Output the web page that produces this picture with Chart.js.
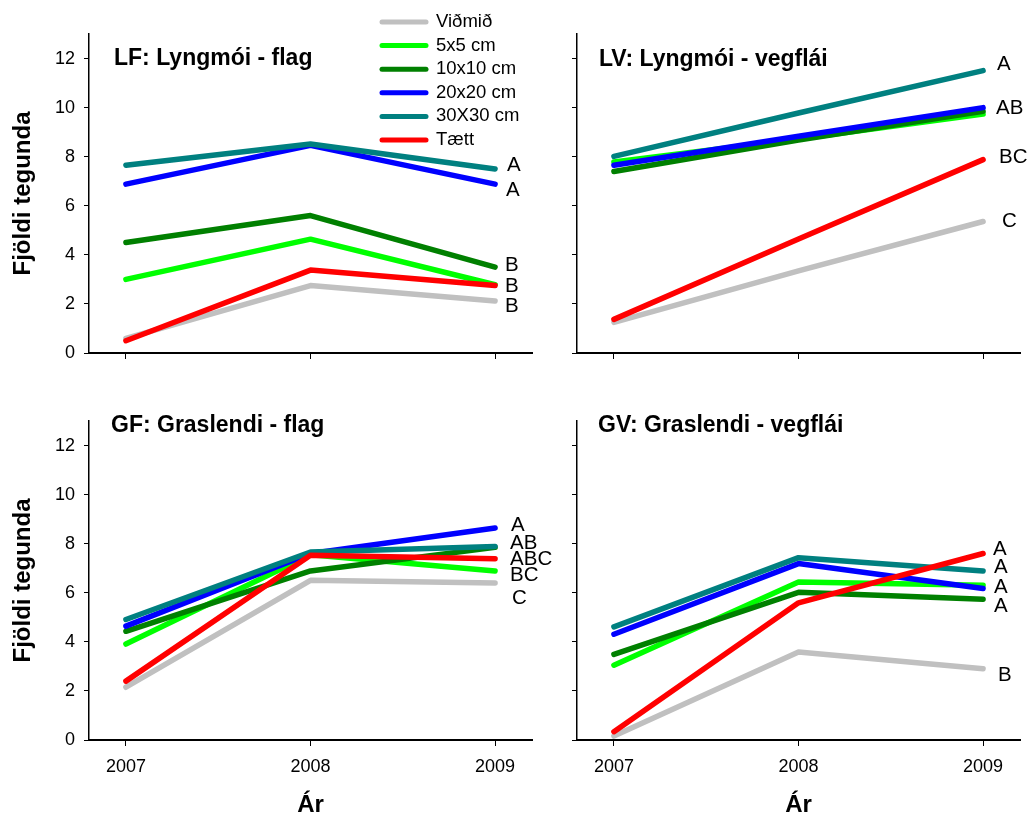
<!DOCTYPE html>
<html>
<head>
<meta charset="utf-8">
<script src="https://cdn.jsdelivr.net/npm/chart.js@4.4.1/dist/chart.umd.min.js"></script>
<style>
  html, body { margin:0; padding:0; background:#fff; }
  #wrap { position:relative; width:1029px; height:817px; background:#fff; overflow:hidden; }
  canvas { position:absolute; }
</style>
</head>
<body>
<div id="wrap">
  <canvas id="c0"></canvas>
  <canvas id="c1"></canvas>
  <canvas id="c2"></canvas>
  <canvas id="c3"></canvas>
</div>
<script>
// ---------- DATA ----------
const YEARS = [2007, 2008, 2009];
const Y_TICKS = [0, 2, 4, 6, 8, 10, 12];
const SERIES_NAMES = ['Viðmið', '5x5 cm', '10x10 cm', '20x20 cm', '30X30 cm', 'Tætt'];

// LF: Lyngmói - flag
const LF_vidmid = [0.60, 2.75, 2.12];
const LF_5x5    = [3.00, 4.64, 2.78];
const LF_10x10  = [4.50, 5.60, 3.50];
const LF_20x20  = [6.88, 8.46, 6.88];
const LF_30x30  = [7.65, 8.52, 7.50];
const LF_taett  = [0.50, 3.38, 2.75];
const LF_letters = ['A', 'A', 'B', 'B', 'B'];
const LF_letterY = [7.63, 6.61, 3.59, 2.73, 1.92];

// LV: Lyngmói - vegflái
const LV_vidmid = [1.25, 3.35, 5.36];
const LV_5x5    = [7.78, 8.72, 9.74];
const LV_10x10  = [7.40, 8.68, 9.85];
const LV_20x20  = [7.65, 8.83, 10.00];
const LV_30x30  = [8.01, 9.78, 11.51];
const LV_taett  = [1.37, 4.65, 7.88];
const LV_letters = ['A', 'AB', 'BC', 'C'];
const LV_letterY = [11.76, 9.96, 7.96, 5.35];

// GF: Graslendi - flag
const GF_vidmid = [2.15, 6.51, 6.40];
const GF_5x5    = [3.91, 7.55, 6.89];
const GF_10x10  = [4.43, 6.89, 7.85];
const GF_20x20  = [4.64, 7.60, 8.64];
const GF_30x30  = [4.91, 7.66, 7.89];
const GF_taett  = [2.40, 7.53, 7.39];
const GF_letters = ['A', 'AB', 'ABC', 'BC', 'C'];
const GF_letterY = [8.75, 8.01, 7.36, 6.71, 5.78];

// GV: Graslendi - vegflái
const GV_vidmid = [0.16, 3.59, 2.90];
const GV_5x5    = [3.05, 6.44, 6.31];
const GV_10x10  = [3.49, 6.02, 5.74];
const GV_20x20  = [4.31, 7.19, 6.17];
const GV_30x30  = [4.61, 7.43, 6.89];
const GV_taett  = [0.34, 5.59, 7.60];
const GV_letters = ['A', 'A', 'A', 'A', 'B'];
const GV_letterY = [7.77, 7.04, 6.22, 5.45, 2.64];

// ---------- STYLE / LAYOUT ----------
const FONT = "'Liberation Sans', Arial, Helvetica, sans-serif";
const COLORS = ['#c0c0c0', '#00ff00', '#008000', '#0000ff', '#008080', '#ff0000'];

const PANELS = [
  { id:'c0', left:0,   top:0,   w:560, h:390, area:{l:89, r:532, t:34, b:353},
    series:[LF_vidmid, LF_5x5, LF_10x10, LF_20x20, LF_30x30, LF_taett],
    title:'LF: Lyngmói - flag', titleX:114, titleBase:65,
    letters:LF_letters, letterY:LF_letterY, letterDx:[12,11,10,10,10],
    yLabels:true, xLabels:false, legend:true },
  { id:'c1', left:540, top:0,   w:489, h:390, area:{l:37, r:480, t:34, b:353},
    series:[LV_vidmid, LV_5x5, LV_10x10, LV_20x20, LV_30x30, LV_taett],
    title:'LV: Lyngmói - vegflái', titleX:59, titleBase:65.5,
    letters:LV_letters, letterY:LV_letterY, letterDx:[14,13,16,19],
    yLabels:false, xLabels:false, legend:false },
  { id:'c2', left:0,   top:390, w:560, h:427, area:{l:89, r:532, t:31, b:350},
    series:[GF_vidmid, GF_5x5, GF_10x10, GF_20x20, GF_30x30, GF_taett],
    title:'GF: Graslendi - flag', titleX:111, titleBase:41.5,
    letters:GF_letters, letterY:GF_letterY, letterDx:[16,15,15,15,17],
    yLabels:true, xLabels:true, legend:false },
  { id:'c3', left:540, top:390, w:489, h:427, area:{l:37, r:480, t:31, b:350},
    series:[GV_vidmid, GV_5x5, GV_10x10, GV_20x20, GV_30x30, GV_taett],
    title:'GV: Graslendi - vegflái', titleX:58, titleBase:42,
    letters:GV_letters, letterY:GV_letterY, letterDx:[10,11,11,11,15],
    yLabels:false, xLabels:true, legend:false }
];

function makeAnnotPlugin(p) {
  return {
    id: 'annot_' + p.id,
    afterDraw(chart) {
      const ctx = chart.ctx;
      const xs = chart.scales.x, ys = chart.scales.y;
      ctx.save();
      // panel title
      ctx.fillStyle = '#000';
      ctx.font = 'bold 23px ' + FONT;
      ctx.textAlign = 'left';
      ctx.textBaseline = 'alphabetic';
      ctx.fillText(p.title, p.titleX, p.titleBase);
      // significance letters
      ctx.font = '20.5px ' + FONT;
      ctx.textBaseline = 'middle';
      const xEnd = xs.getPixelForValue(YEARS[YEARS.length - 1]);
      p.letters.forEach((t, i) => {
        ctx.fillText(t, xEnd + p.letterDx[i], ys.getPixelForValue(p.letterY[i]));
      });
      // legend
      if (p.legend) {
        ctx.font = '18.5px ' + FONT;
        ctx.lineCap = 'round';
        ctx.lineWidth = 5;
        SERIES_NAMES.forEach((name, i) => {
          const y = 22 + i * 23.6;
          ctx.strokeStyle = COLORS[i];
          ctx.beginPath();
          ctx.moveTo(382, y);
          ctx.lineTo(426, y);
          ctx.stroke();
          ctx.fillStyle = '#000';
          ctx.fillText(name, 436, y);
        });
      }
      ctx.restore();
    }
  };
}

PANELS.forEach(p => {
  const cv = document.getElementById(p.id);
  cv.width = p.w; cv.height = p.h;
  cv.style.left = p.left + 'px'; cv.style.top = p.top + 'px';
  cv.style.width = p.w + 'px'; cv.style.height = p.h + 'px';

  const datasets = p.series.map((vals, i) => ({
    label: SERIES_NAMES[i],
    data: YEARS.map((yr, k) => ({ x: yr, y: vals[k] })),
    borderColor: COLORS[i],
    backgroundColor: COLORS[i],
    borderWidth: 5.5,
    borderCapStyle: 'round',
    borderJoinStyle: 'round',
    pointRadius: 0,
    tension: 0,
    fill: false,
    order: SERIES_NAMES.length - i
  }));

  new Chart(cv, {
    type: 'line',
    data: { datasets },
    options: {
      responsive: false,
      animation: false,
      devicePixelRatio: 1,
      layout: { padding: { left: 0, top: p.area.t, right: p.w - p.area.r, bottom: 0 } },
      plugins: { legend: { display: false }, tooltip: { enabled: false } },
      scales: {
        x: {
          type: 'linear', min: 2006.8, max: 2009.2,
          afterBuildTicks: s => { s.ticks = YEARS.map(v => ({ value: v })); },
          afterFit: s => { s.height = p.h - p.area.b; },
          grid: { display: true, drawOnChartArea: false, drawTicks: true, tickLength: 6, color: '#000', lineWidth: 1 },
          border: { display: true, color: '#000', width: 2 },
          ticks: { display: p.xLabels, color: '#000', font: { family: FONT, size: 18 }, padding: 10,
                   maxRotation: 0, autoSkip: false, callback: v => String(v) },
          title: { display: p.xLabels, text: 'Ár', color: '#000',
                   font: { family: FONT, size: 24, weight: 'bold', lineHeight: 1 }, padding: { top: 0, bottom: 0 } }
        },
        y: {
          min: 0, max: 13,
          afterBuildTicks: s => { s.ticks = Y_TICKS.map(v => ({ value: v })); },
          afterFit: s => { s.width = p.area.l; },
          grid: { display: true, drawOnChartArea: false, drawTicks: true, tickLength: 5, color: '#000', lineWidth: 1 },
          border: { display: true, color: '#000', width: 1.5 },
          ticks: { display: p.yLabels, color: '#000', font: { family: FONT, size: 18 }, padding: 9,
                   callback: v => String(v) },
          title: { display: p.yLabels, text: 'Fjöldi tegunda', color: '#000',
                   font: { family: FONT, size: 24, weight: 'bold', lineHeight: 1 }, padding: { top: 11, bottom: 0 } }
        }
      }
    },
    plugins: [makeAnnotPlugin(p)]
  });
});
</script>
</body>
</html>
